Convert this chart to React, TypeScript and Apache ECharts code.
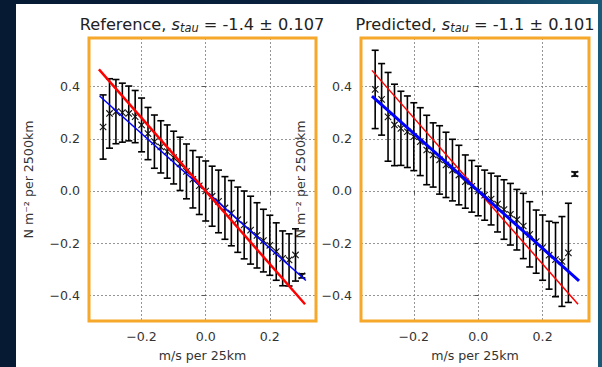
import React, { useEffect, useRef } from 'react';
import * as echarts from 'echarts';

const FONT = 'DejaVu Sans';

const xTicks = [-0.2, 0.0, 0.2];
const yTicks = [-0.4, -0.2, 0.0, 0.2, 0.4];

const binX = [
  -0.32, -0.30, -0.28, -0.26, -0.24, -0.22, -0.20, -0.18, -0.16, -0.14, -0.12,
  -0.10, -0.08, -0.06, -0.04, -0.02, 0.00, 0.02, 0.04, 0.06, 0.08, 0.10,
  0.12, 0.14, 0.16, 0.18, 0.20, 0.22, 0.24, 0.26, 0.28, 0.30,
];

const refMean = [
  0.245, 0.297, 0.304, 0.300, 0.297, 0.285, 0.253, 0.220, 0.189, 0.169, 0.151,
  0.128, 0.104, 0.075, 0.045, 0.020, 0.000, -0.020, -0.040, -0.065, -0.085, -0.110,
  -0.130, -0.150, -0.170, -0.190, -0.208, -0.232, -0.258, -0.264, -0.245, -0.325,
];
const refErr = [
  0.123, 0.133, 0.123, 0.113, 0.105, 0.100, 0.103, 0.100, 0.102, 0.100, 0.102,
  0.101, 0.102, 0.105, 0.110, 0.110, 0.115, 0.115, 0.120, 0.120, 0.125, 0.125,
  0.130, 0.130, 0.125, 0.120, 0.115, 0.110, 0.105, 0.100, 0.100, 0.008,
];

const predMean = [
  0.389, 0.351, 0.284, 0.253, 0.240, 0.227, 0.208, 0.189, 0.157, 0.138, 0.119,
  0.100, 0.080, 0.061, 0.036, 0.018, 0.000, -0.016, -0.031, -0.050, -0.071, -0.089,
  -0.110, -0.134, -0.166, -0.194, -0.217, -0.246, -0.263, -0.270, -0.237, 0.065,
];
const predErr = [
  0.150, 0.137, 0.170, 0.156, 0.142, 0.137, 0.130, 0.130, 0.133, 0.123, 0.131,
  0.125, 0.118, 0.114, 0.102, 0.099, 0.095, 0.096, 0.099, 0.107, 0.114, 0.118,
  0.116, 0.125, 0.125, 0.121, 0.125, 0.130, 0.142, 0.172, 0.190, 0.008,
];

const refFitRed = [[-0.333, 0.466], [0.31, -0.434]];
const refFitBlue = [[-0.331, 0.364], [0.3125, -0.343]];
const predFitRed = [[-0.33, 0.462], [0.31, -0.434]];
const predFitBlue = [[-0.33, 0.363], [0.313, -0.344]];

const titles = ['Reference, {i|s}{sub|tau} = -1.4 ± 0.107', 'Predicted, {i|s}{sub|tau} = -1.1 ± 0.101'];
const xName = 'm/s per 25km';
const yName = 'N m⁻² per 2500km';

const ORANGE = '#f5a82a';
const TXT = '#333333';
const LBL = 12.6;
const TFS = 16.2;

const fmt = (v: number) => (v < -1e-9 ? '−' : '') + Math.abs(v).toFixed(1);

const errRender = (params: any, api: any) => {
  const x = api.value(0);
  const m = api.value(1);
  const e = api.value(2);
  const top = api.coord([x, m + e]);
  const bot = api.coord([x, m - e]);
  const c = api.coord([x, m]);
  const cap = 3.5;
  const s = 3.2;
  const st = { stroke: '#000', lineWidth: 1.6 };
  const ms = { stroke: '#111', lineWidth: 1.1 };
  return {
    type: 'group',
    children: [
      { type: 'line', shape: { x1: top[0], y1: top[1], x2: bot[0], y2: bot[1] }, style: st },
      { type: 'line', shape: { x1: top[0] - cap, y1: top[1], x2: top[0] + cap, y2: top[1] }, style: st },
      { type: 'line', shape: { x1: bot[0] - cap, y1: bot[1], x2: bot[0] + cap, y2: bot[1] }, style: st },
      { type: 'line', shape: { x1: c[0] - s, y1: c[1] - s, x2: c[0] + s, y2: c[1] + s }, style: ms },
      { type: 'line', shape: { x1: c[0] - s, y1: c[1] + s, x2: c[0] + s, y2: c[1] - s }, style: ms },
    ],
  };
};

const mkX = (gi: number) => ({
  type: 'value',
  gridIndex: gi,
  min: -0.364,
  max: 0.344,
  name: xName,
  nameLocation: 'middle',
  nameGap: 28,
  nameTextStyle: { fontFamily: FONT, fontSize: LBL, color: TXT },
  axisLine: { show: false },
  axisTick: { show: true, customValues: xTicks, length: 3.5, lineStyle: { color: TXT, width: 0.8 } },
  axisLabel: { customValues: xTicks, formatter: fmt, fontFamily: FONT, fontSize: LBL, color: TXT, margin: 9 },
  splitLine: { show: true, lineStyle: { type: [2, 2], color: '#7a7a7a', width: 0.8 } },
});

const mkY = (gi: number) => ({
  type: 'value',
  gridIndex: gi,
  min: -0.498,
  max: 0.586,
  name: yName,
  nameLocation: 'middle',
  nameGap: 54,
  nameRotate: 90,
  nameTextStyle: { fontFamily: FONT, fontSize: LBL, color: TXT },
  axisLine: { show: false },
  axisTick: { show: true, customValues: yTicks, length: 3.5, lineStyle: { color: TXT, width: 0.8 } },
  axisLabel: { customValues: yTicks, formatter: fmt, fontFamily: FONT, fontSize: LBL, color: TXT, margin: 9 },
  splitLine: { show: true, lineStyle: { type: [2, 2], color: '#7a7a7a', width: 0.8 } },
});

const titleRich = {
  i: { fontFamily: FONT, fontStyle: 'italic', fontSize: TFS, fill: '#222' },
  sub: { fontFamily: FONT, fontStyle: 'italic', fontSize: 11.4, fill: '#222', padding: [8, 0, 0, 0] },
};

export default function App() {
  const ref = useRef<HTMLDivElement>(null);
  useEffect(() => {
    document.body.style.margin = '0';
    if (!ref.current) return;
    const chart = echarts.init(ref.current, null, { renderer: 'svg' });
    const grids = [
      { left: 89, top: 38, width: 227, height: 283 },
      { left: 361, top: 38, width: 228, height: 283 },
    ];
    const titleX = [202, 475];
    chart.setOption({
      animation: false,
      backgroundColor: {
        type: 'linear', x: 0, y: 0, x2: 1, y2: 0,
        colorStops: [
          { offset: 0, color: '#061a33' },
          { offset: 0.6, color: '#0a2340' },
          { offset: 1, color: '#1a5a78' },
        ],
      },
      graphic: [
        { type: 'rect', shape: { x: 16, y: 4, width: 582, height: 363 }, style: { fill: '#ffffff' }, z: -10 },
        ...grids.map((g) => ({
          type: 'rect',
          shape: { x: g.left, y: g.top, width: g.width, height: g.height },
          style: { fill: 'none', stroke: ORANGE, lineWidth: 3 },
          z: 100,
        })),
        ...titles.map((t, i) => ({
          type: 'text',
          x: titleX[i],
          y: 24,
          z: 100,
          style: {
            text: t,
            align: 'center',
            verticalAlign: 'middle',
            fontFamily: FONT,
            fontSize: TFS,
            fill: '#222',
            rich: titleRich,
          },
        })),
      ],
      grid: grids.map((g) => ({ ...g, show: true, backgroundColor: '#ffffff', borderWidth: 0 })),
      xAxis: [mkX(0), mkX(1)],
      yAxis: [mkY(0), mkY(1)],
      series: [
        {
          type: 'custom',
          xAxisIndex: 0,
          yAxisIndex: 0,
          renderItem: errRender,
          data: binX.map((x, i) => [x, refMean[i], refErr[i]]),
          encode: { x: 0, y: 1 },
          z: 3,
        },
        {
          type: 'line', xAxisIndex: 0, yAxisIndex: 0, data: refFitBlue, symbol: 'none',
          lineStyle: { color: '#0000ff', width: 1.5 }, z: 4,
        },
        {
          type: 'line', xAxisIndex: 0, yAxisIndex: 0, data: refFitRed, symbol: 'none',
          lineStyle: { color: '#ff0000', width: 2.5 }, z: 5,
        },
        {
          type: 'custom',
          xAxisIndex: 1,
          yAxisIndex: 1,
          renderItem: errRender,
          data: binX.map((x, i) => [x, predMean[i], predErr[i]]),
          encode: { x: 0, y: 1 },
          z: 3,
        },
        {
          type: 'line', xAxisIndex: 1, yAxisIndex: 1, data: predFitRed, symbol: 'none',
          lineStyle: { color: '#ff0000', width: 1.5 }, z: 4,
        },
        {
          type: 'line', xAxisIndex: 1, yAxisIndex: 1, data: predFitBlue, symbol: 'none',
          lineStyle: { color: '#0000ff', width: 3 }, z: 5,
        },
      ],
    });
    return () => chart.dispose();
  }, []);
  return <div ref={ref} style={{ width: 602, height: 367 }} />;
}
